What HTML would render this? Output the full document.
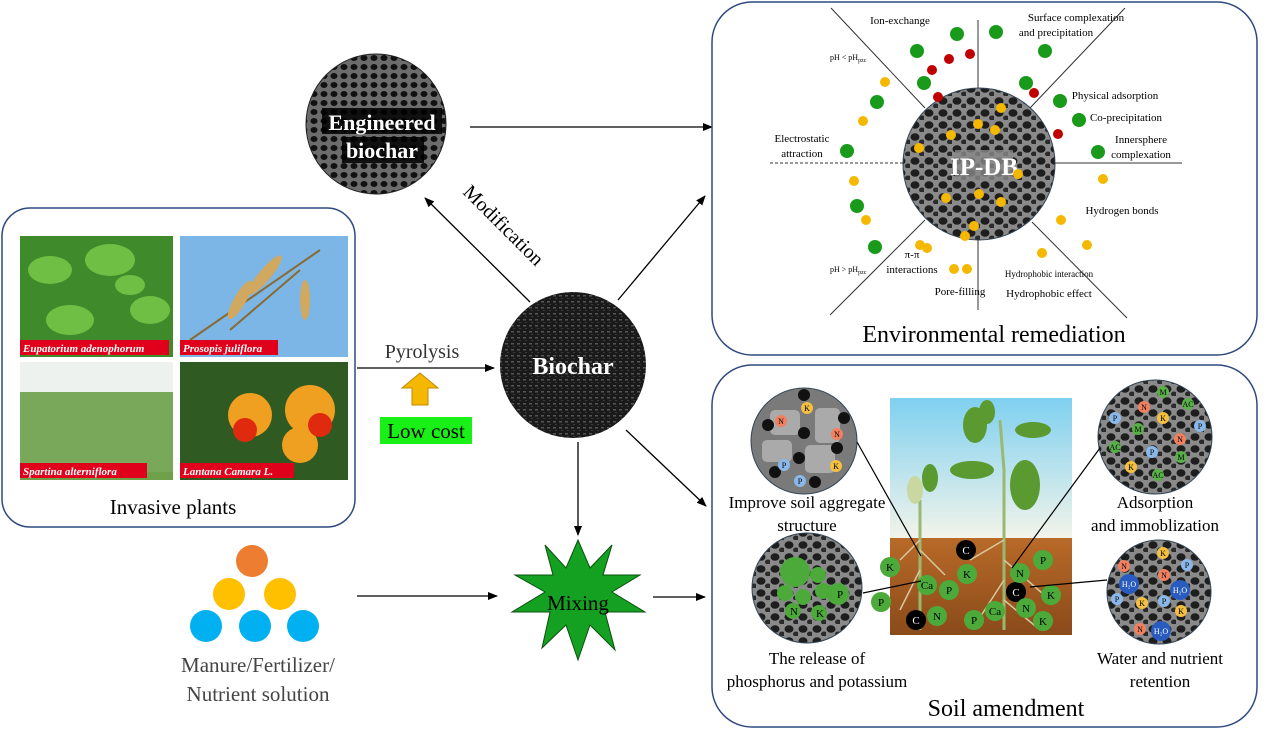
<!DOCTYPE html>
<html><head><meta charset="utf-8"><style>
html,body{margin:0;padding:0;background:#fff;width:1269px;height:741px;overflow:hidden}
svg text{font-family:"Liberation Serif",serif}
</style></head><body>
<svg width="1269" height="741" viewBox="0 0 1269 741" xmlns="http://www.w3.org/2000/svg">
<defs>
<pattern id="pore" width="14" height="12" patternUnits="userSpaceOnUse">
<rect width="14" height="12" fill="#8a8a8a"/>
<ellipse cx="5" cy="5" rx="4.5" ry="3.8" fill="#1e1e1e"/>
<ellipse cx="12" cy="10" rx="3" ry="2.5" fill="#2a2a2a"/>
</pattern>
<pattern id="char" width="6" height="6" patternUnits="userSpaceOnUse">
<rect width="6" height="6" fill="#1a1a1a"/>
<rect x="1" y="1" width="3" height="1.5" fill="#555"/>
<rect x="3" y="4" width="2" height="1" fill="#3a3a3a"/>
</pattern>
<pattern id="eng" width="10" height="9" patternUnits="userSpaceOnUse">
<rect width="10" height="9" fill="#6c6c6c"/>
<ellipse cx="4" cy="4" rx="3.5" ry="3" fill="#111"/>
</pattern>
<marker id="ar" markerWidth="10" markerHeight="8" refX="9" refY="4" orient="auto" markerUnits="userSpaceOnUse">
<path d="M0,0 L10,4 L0,8 z" fill="#000"/></marker>
<linearGradient id="sky" x1="0" y1="0" x2="0" y2="1"><stop offset="0" stop-color="#7fd0f0"/><stop offset="1" stop-color="#f2f4ea"/></linearGradient>
<linearGradient id="soil" x1="0" y1="0" x2="0" y2="1"><stop offset="0" stop-color="#b86a28"/><stop offset="1" stop-color="#8a4a1a"/></linearGradient>
</defs>

<!-- Left panel -->
<rect x="2" y="208" width="353" height="319" rx="28" fill="#fff" stroke="#2f4a80" stroke-width="1.5"/>
<rect x="20" y="236" width="153" height="121" fill="#3f8a2a"/>
<g fill="#6fbf45"><ellipse cx="50" cy="270" rx="22" ry="14"/><ellipse cx="110" cy="260" rx="25" ry="16"/><ellipse cx="150" cy="310" rx="20" ry="14"/><ellipse cx="70" cy="320" rx="24" ry="15"/><ellipse cx="130" cy="285" rx="15" ry="10"/></g>
<rect x="20" y="340" width="149" height="15" fill="#e0001b"/>
<text x="23" y="352" font-size="11" font-style="italic" font-weight="bold" fill="#fff">Eupatorium adenophorum</text>
<rect x="180" y="236" width="168" height="121" fill="#7cb6e6"/>
<g stroke="#8a6a30" stroke-width="2"><line x1="190" y1="340" x2="320" y2="250"/><line x1="230" y1="330" x2="300" y2="270"/></g>
<g fill="#d1a860"><ellipse cx="265" cy="275" rx="6" ry="25" transform="rotate(40 265 275)"/><ellipse cx="240" cy="300" rx="6" ry="22" transform="rotate(30 240 300)"/><ellipse cx="305" cy="300" rx="5" ry="20"/></g>
<rect x="180" y="340" width="98" height="15" fill="#e0001b"/>
<text x="183" y="352" font-size="11" font-style="italic" font-weight="bold" fill="#fff">Prosopis juliflora</text>
<rect x="20" y="362" width="153" height="118" fill="#6fa04a"/>
<rect x="20" y="362" width="153" height="35" fill="#eef2ee"/>
<rect x="20" y="392" width="153" height="80" fill="#7aa85a"/>
<rect x="20" y="463" width="127" height="15" fill="#e0001b"/>
<text x="23" y="475" font-size="11" font-style="italic" font-weight="bold" fill="#fff">Spartina alterniflora</text>
<rect x="180" y="362" width="168" height="118" fill="#2f5a22"/>
<g fill="#f0a020"><circle cx="250" cy="415" r="22"/><circle cx="310" cy="410" r="25"/><circle cx="300" cy="445" r="18"/></g>
<g fill="#e02a10"><circle cx="245" cy="430" r="12"/><circle cx="320" cy="425" r="12"/></g>
<rect x="180" y="463" width="114" height="15" fill="#e0001b"/>
<text x="183" y="475" font-size="11" font-style="italic" font-weight="bold" fill="#fff">Lantana Camara L.</text>
<text x="173" y="514" font-size="21" text-anchor="middle">Invasive plants</text>

<!-- Pyrolysis -->
<text x="422" y="358" font-size="20" text-anchor="middle" fill="#333">Pyrolysis</text>
<line x1="357" y1="368" x2="494" y2="368" stroke="#000" stroke-width="1.3" marker-end="url(#ar)"/>
<path d="M402,388 L420,373 L438,388 L428,388 L428,405 L412,405 L412,388 z" fill="#f5b800" stroke="#c08a00"/>
<rect x="380" y="417" width="92" height="27" fill="#18f018"/>
<text x="426" y="438" font-size="21" text-anchor="middle">Low cost</text>

<!-- Engineered biochar -->
<circle cx="376" cy="124" r="70" fill="url(#eng)" stroke="#222"/>
<rect x="322" y="108" width="120" height="26" fill="#000" opacity=".85"/>
<rect x="342" y="137" width="82" height="26" fill="#000" opacity=".85"/>
<text x="382" y="130" font-size="22" font-weight="bold" fill="#fff" text-anchor="middle">Engineered</text>
<text x="382" y="158" font-size="22" font-weight="bold" fill="#fff" text-anchor="middle">biochar</text>

<!-- Biochar -->
<circle cx="573" cy="365" r="73" fill="url(#char)"/>
<text x="573" y="374" font-size="24" font-weight="bold" fill="#fff" text-anchor="middle">Biochar</text>

<!-- arrows -->
<line x1="530" y1="302" x2="425" y2="198" stroke="#000" stroke-width="1.3" marker-end="url(#ar)"/>
<text x="0" y="0" font-size="20" transform="translate(462 193) rotate(45)">Modification</text>
<line x1="470" y1="127" x2="712" y2="127" stroke="#000" stroke-width="1.3" marker-end="url(#ar)"/>
<line x1="618" y1="300" x2="705" y2="196" stroke="#000" stroke-width="1.3" marker-end="url(#ar)"/>
<line x1="626" y1="430" x2="706" y2="506" stroke="#000" stroke-width="1.3" marker-end="url(#ar)"/>
<line x1="578" y1="442" x2="578" y2="535" stroke="#000" stroke-width="1.3" marker-end="url(#ar)"/>
<line x1="357" y1="596" x2="497" y2="596" stroke="#000" stroke-width="1.3" marker-end="url(#ar)"/>
<line x1="653" y1="597" x2="705" y2="597" stroke="#000" stroke-width="1.3" marker-end="url(#ar)"/>

<!-- Mixing star -->
<polygon points="578,540 590,568 612,545 603,575 640,575 612,592 645,612 605,612 615,650 590,625 578,660 566,625 542,648 550,612 512,612 545,592 515,575 553,575 545,545 566,568" fill="#14a020" stroke="#0a5010"/>
<text x="578" y="610" font-size="21" text-anchor="middle">Mixing</text>

<!-- dots -->
<circle cx="252" cy="561" r="16" fill="#ed7d31"/>
<circle cx="229" cy="594" r="16" fill="#ffc000"/><circle cx="280" cy="594" r="16" fill="#ffc000"/>
<circle cx="206" cy="626" r="16" fill="#00b0f0"/><circle cx="255" cy="626" r="16" fill="#00b0f0"/><circle cx="303" cy="626" r="16" fill="#00b0f0"/>
<text x="258" y="672" font-size="21" text-anchor="middle" fill="#444">Manure/Fertilizer/</text>
<text x="258" y="701" font-size="21" text-anchor="middle" fill="#444">Nutrient solution</text>

<!-- Top right panel -->
<rect x="712" y="2" width="545" height="353" rx="40" fill="#fff" stroke="#2f4a80" stroke-width="1.5"/>
<g stroke="#333" stroke-width="1">
<line x1="978" y1="20" x2="978" y2="310"/>
<line x1="1053" y1="163" x2="1182" y2="163"/>
<line x1="770" y1="163" x2="905" y2="163" stroke-dasharray="3,2"/>
<line x1="831" y1="8" x2="925" y2="108"/><line x1="1125" y1="8" x2="1030" y2="108"/>
<line x1="830" y1="315" x2="925" y2="220"/><line x1="1127" y1="318" x2="1032" y2="222"/>
</g>
<circle cx="979" cy="164" r="76" fill="url(#pore)" stroke="#345" stroke-width="1"/>
<rect x="955" y="150" width="58" height="30" fill="#888" opacity=".8"/>
<text x="984" y="175" font-size="25" font-weight="bold" fill="#fff" text-anchor="middle">IP-DB</text>
<g fill="#f5b800"><circle cx="1001" cy="108" r="5"/><circle cx="978" cy="124" r="5"/><circle cx="995" cy="130" r="5"/><circle cx="951" cy="135" r="5"/><circle cx="919" cy="148" r="5"/><circle cx="1018" cy="174" r="5"/><circle cx="946" cy="198" r="5"/><circle cx="979" cy="194" r="5"/><circle cx="1001" cy="202" r="5"/><circle cx="974" cy="226" r="5"/><circle cx="965" cy="236" r="5"/><circle cx="854" cy="181" r="5"/><circle cx="866" cy="220" r="5"/><circle cx="920" cy="245" r="5"/><circle cx="927" cy="248" r="5"/><circle cx="954" cy="269" r="5"/><circle cx="967" cy="269" r="5"/><circle cx="1103" cy="179" r="5"/><circle cx="1061" cy="220" r="5"/><circle cx="1087" cy="245" r="5"/><circle cx="1042" cy="253" r="5"/><circle cx="885" cy="82" r="5"/><circle cx="863" cy="121" r="5"/></g>
<g fill="#1a9a1a"><circle cx="917" cy="51" r="7"/><circle cx="957" cy="34" r="7"/><circle cx="996" cy="32" r="7"/><circle cx="1045" cy="51" r="7"/><circle cx="924" cy="83" r="7"/><circle cx="1026" cy="83" r="7"/><circle cx="1060" cy="101" r="7"/><circle cx="1079" cy="120" r="7"/><circle cx="877" cy="102" r="7"/><circle cx="847" cy="151" r="7"/><circle cx="1098" cy="152" r="7"/><circle cx="857" cy="206" r="7"/><circle cx="875" cy="247" r="7"/></g>
<g fill="#c00000"><circle cx="932" cy="70" r="5"/><circle cx="949" cy="59" r="5"/><circle cx="970" cy="54" r="5"/><circle cx="938" cy="97" r="5"/><circle cx="1034" cy="93" r="5"/><circle cx="1058" cy="134" r="5"/></g>
<g font-size="11">
<text x="900" y="24" text-anchor="middle">Ion-exchange</text>
<text x="1076" y="21" text-anchor="middle">Surface complexation</text>
<text x="1056" y="36" text-anchor="middle">and precipitation</text>
<text x="830" y="60" font-size="8">pH &lt; pH<tspan font-size="6" dy="2">pzc</tspan></text>
<text x="1115" y="99" text-anchor="middle">Physical adsorption</text>
<text x="1126" y="121" text-anchor="middle">Co-precipitation</text>
<text x="1141" y="143" text-anchor="middle">Innersphere</text>
<text x="1141" y="158" text-anchor="middle">complexation</text>
<text x="802" y="142" text-anchor="middle">Electrostatic</text>
<text x="802" y="157" text-anchor="middle">attraction</text>
<text x="1122" y="214" text-anchor="middle">Hydrogen bonds</text>
<text x="830" y="272" font-size="8">pH &gt; pH<tspan font-size="6" dy="2">pzc</tspan></text>
<text x="912" y="258" text-anchor="middle">π-π</text>
<text x="912" y="273" text-anchor="middle">interactions</text>
<text x="960" y="295" text-anchor="middle">Pore-filling</text>
<text x="1049" y="277" text-anchor="middle" font-size="9">Hydrophobic interaction</text>
<text x="1049" y="297" text-anchor="middle">Hydrophobic effect</text>
</g>
<text x="994" y="342" font-size="24" text-anchor="middle">Environmental remediation</text>

<!-- Bottom right panel -->
<rect x="712" y="365" width="545" height="362" rx="40" fill="#fff" stroke="#2f4a80" stroke-width="1.5"/>
<rect x="890" y="398" width="182" height="140" fill="url(#sky)"/>
<rect x="890" y="538" width="182" height="97" fill="url(#soil)"/>
<g stroke="#9ab870" stroke-width="3" fill="none"><path d="M1004,630 L1004,470 L1000,420"/><path d="M920,630 L920,500"/></g>
<g fill="#5a9a30"><ellipse cx="972" cy="470" rx="22" ry="9"/><ellipse cx="1025" cy="485" rx="15" ry="25"/><ellipse cx="975" cy="425" rx="12" ry="18"/><ellipse cx="1033" cy="430" rx="18" ry="8"/><ellipse cx="987" cy="412" rx="8" ry="12"/><ellipse cx="915" cy="490" rx="8" ry="14" fill="#c8d8a0"/><ellipse cx="930" cy="478" rx="8" ry="14"/></g>
<g stroke="#d8c8a0" stroke-width="1.5" fill="none"><path d="M920,540 L900,560 M920,550 L945,575 M920,570 L900,610 M1004,540 L970,560 M1004,560 L1050,600 M1004,580 L975,625 M1004,600 L1040,630"/></g>
<g font-family="Liberation Serif" font-size="11" text-anchor="middle">
<circle cx="890" cy="567" r="10" fill="#4caa3a"/><text x="890" y="571">K</text>
<circle cx="881" cy="602" r="10" fill="#4caa3a"/><text x="881" y="606">P</text>
<circle cx="966" cy="550" r="10" fill="#000"/><text x="966" y="554" fill="#fff">C</text>
<circle cx="1016" cy="592" r="10" fill="#000"/><text x="1016" y="596" fill="#fff">C</text>
<circle cx="916" cy="620" r="10" fill="#000"/><text x="916" y="624" fill="#fff">C</text>
<circle cx="927" cy="585" r="10" fill="#4caa3a"/><text x="927" y="589">Ca</text>
<circle cx="949" cy="590" r="10" fill="#4caa3a"/><text x="949" y="594">P</text>
<circle cx="937" cy="616" r="10" fill="#4caa3a"/><text x="937" y="620">N</text>
<circle cx="967" cy="574" r="10" fill="#4caa3a"/><text x="967" y="578">K</text>
<circle cx="974" cy="620" r="10" fill="#4caa3a"/><text x="974" y="624">P</text>
<circle cx="995" cy="611" r="10" fill="#4caa3a"/><text x="995" y="615">Ca</text>
<circle cx="1020" cy="573" r="10" fill="#4caa3a"/><text x="1020" y="577">N</text>
<circle cx="1043" cy="560" r="10" fill="#4caa3a"/><text x="1043" y="564">P</text>
<circle cx="1051" cy="595" r="10" fill="#4caa3a"/><text x="1051" y="599">K</text>
<circle cx="1026" cy="608" r="10" fill="#4caa3a"/><text x="1026" y="612">N</text>
<circle cx="1043" cy="621" r="10" fill="#4caa3a"/><text x="1043" y="625">K</text>
</g>
<!-- circles -->
<circle cx="804" cy="441" r="53" fill="#7a7a7a" stroke="#345"/>
<g fill="#aaa"><rect x="770" y="410" width="30" height="25" rx="5"/><rect x="815" y="408" width="25" height="35" rx="5"/><rect x="762" y="440" width="30" height="22" rx="5"/><rect x="805" y="445" width="30" height="28" rx="5"/></g>
<g fill="#111"><circle cx="804" cy="395" r="6"/><circle cx="768" cy="425" r="6"/><circle cx="844" cy="418" r="6"/><circle cx="804" cy="433" r="6"/><circle cx="837" cy="448" r="6"/><circle cx="799" cy="458" r="6"/><circle cx="775" cy="472" r="6"/><circle cx="815" cy="482" r="6"/></g>
<g font-size="8" text-anchor="middle"><circle cx="807" cy="408" r="6" fill="#f5c040"/><text x="807" y="411">K</text><circle cx="781" cy="421" r="6" fill="#f08060"/><text x="781" y="424">N</text><circle cx="837" cy="434" r="6" fill="#f08060"/><text x="837" y="437">N</text><circle cx="836" cy="466" r="6" fill="#f5c040"/><text x="836" y="469">K</text><circle cx="784" cy="465" r="6" fill="#8ab8e8"/><text x="784" y="468">P</text><circle cx="800" cy="481" r="6" fill="#8ab8e8"/><text x="800" y="484">P</text></g>
<circle cx="807" cy="588" r="55" fill="url(#pore)" stroke="#345"/>
<g fill="#4caa3a"><circle cx="795" cy="572" r="15"/><circle cx="818" cy="575" r="8"/><circle cx="785" cy="593" r="8"/><circle cx="803" cy="597" r="8"/><circle cx="823" cy="591" r="8"/><circle cx="838" cy="594" r="11"/><circle cx="793" cy="611" r="8"/><circle cx="819" cy="613" r="8"/></g>
<g font-size="11" text-anchor="middle"><text x="840" y="598">P</text><text x="794" y="615">N</text><text x="820" y="617">K</text></g>
<circle cx="1155" cy="437" r="57" fill="url(#pore)" stroke="#345"/>
<g font-size="8" text-anchor="middle">
<circle cx="1163" cy="392" r="6" fill="#5ab048"/><text x="1163" y="395">M</text><circle cx="1188" cy="404" r="6" fill="#5ab048"/><text x="1188" y="407">AC</text><circle cx="1144" cy="407" r="6" fill="#f08060"/><text x="1144" y="410">N</text><circle cx="1163" cy="418" r="6" fill="#f5c040"/><text x="1163" y="421">K</text><circle cx="1115" cy="418" r="6" fill="#8ab8e8"/><text x="1115" y="421">P</text><circle cx="1200" cy="426" r="6" fill="#8ab8e8"/><text x="1200" y="429">P</text><circle cx="1138" cy="429" r="6" fill="#5ab048"/><text x="1138" y="432">M</text><circle cx="1180" cy="439" r="6" fill="#f08060"/><text x="1180" y="442">N</text><circle cx="1115" cy="447" r="6" fill="#5ab048"/><text x="1115" y="450">AC</text><circle cx="1152" cy="452" r="6" fill="#8ab8e8"/><text x="1152" y="455">P</text><circle cx="1181" cy="457" r="6" fill="#5ab048"/><text x="1181" y="460">M</text><circle cx="1131" cy="467" r="6" fill="#f5c040"/><text x="1131" y="470">K</text><circle cx="1158" cy="475" r="6" fill="#5ab048"/><text x="1158" y="478">AC</text></g>
<circle cx="1159" cy="592" r="52" fill="url(#pore)" stroke="#345"/>
<g font-size="8" text-anchor="middle">
<circle cx="1163" cy="553" r="6" fill="#f5c040"/><text x="1163" y="556">K</text><circle cx="1124" cy="566" r="6" fill="#f08060"/><text x="1124" y="569">N</text><circle cx="1187" cy="565" r="6" fill="#8ab8e8"/><text x="1187" y="568">P</text><circle cx="1164" cy="575" r="6" fill="#f08060"/><text x="1164" y="578">N</text><circle cx="1129" cy="584" r="10" fill="#2a5cc0"/><text x="1129" y="587" fill="#fff">H₂O</text><circle cx="1180" cy="590" r="10" fill="#2a5cc0"/><text x="1180" y="593" fill="#fff">H₂O</text><circle cx="1117" cy="599" r="6" fill="#8ab8e8"/><text x="1117" y="602">P</text><circle cx="1142" cy="603" r="6" fill="#f5c040"/><text x="1142" y="606">K</text><circle cx="1164" cy="601" r="6" fill="#8ab8e8"/><text x="1164" y="604">P</text><circle cx="1181" cy="611" r="6" fill="#f5c040"/><text x="1181" y="614">K</text><circle cx="1140" cy="629" r="6" fill="#f08060"/><text x="1140" y="632">N</text><circle cx="1161" cy="631" r="10" fill="#2a5cc0"/><text x="1161" y="634" fill="#fff">H₂O</text></g>
<g stroke="#000" stroke-width="1.2"><line x1="857" y1="442" x2="921" y2="556"/><line x1="863" y1="593" x2="921" y2="581"/><line x1="1100" y1="448" x2="1012" y2="568"/><line x1="1107" y1="580" x2="1030" y2="587"/></g>
<g font-size="17" text-anchor="middle">
<text x="807" y="508">Improve soil aggregate</text><text x="807" y="531">structure</text>
<text x="1155" y="508">Adsorption</text><text x="1155" y="531">and immoblization</text>
<text x="817" y="664">The release of</text><text x="817" y="687">phosphorus and potassium</text>
<text x="1160" y="664">Water and nutrient</text><text x="1160" y="687">retention</text>
</g>
<text x="1006" y="716" font-size="24" text-anchor="middle">Soil amendment</text>
</svg>
</body></html>
